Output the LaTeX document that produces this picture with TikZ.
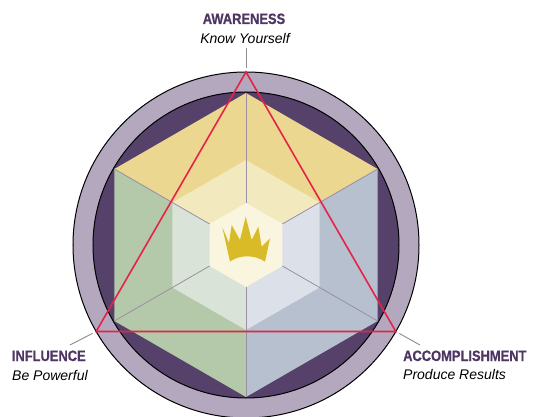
\documentclass[tikz,border=0pt]{standalone}
\usepackage{fontspec}
\setmainfont{Liberation Sans}
\newfontfamily\headfont[FakeStretch=0.86, BoldFeatures={FakeBold=0.6}]{Liberation Sans}

\definecolor{ringlight}{HTML}{B3A8BE}
\definecolor{ringdark}{HTML}{56416A}
\definecolor{yellowout}{HTML}{EBD78F}
\definecolor{yellowmid}{HTML}{F3E9BF}
\definecolor{greenout}{HTML}{B3C9A9}
\definecolor{greenmid}{HTML}{DAE3D7}
\definecolor{blueout}{HTML}{B6C0CE}
\definecolor{bluemid}{HTML}{DCE0E8}
\definecolor{creamcore}{HTML}{FAF5DF}
\definecolor{crowngold}{HTML}{D8BB26}
\definecolor{trired}{HTML}{E5234A}
\definecolor{seamgray}{HTML}{9A8FA5}
\definecolor{leadergray}{HTML}{8C8C8C}
\definecolor{titlepurple}{HTML}{4E3663}

\begin{document}
\begin{tikzpicture}[x=1pt, y=1pt,
          title/.style={font=\headfont\bfseries\fontsize{15}{18}\selectfont, text=titlepurple, anchor=base, inner sep=0pt},
          motto/.style={font=\itshape\fontsize{14}{17}\selectfont, anchor=base, inner sep=0pt},
          leader/.style={draw=leadergray, line width=0.9pt, shorten >=4pt},
          seam/.style={draw=seamgray, line width=0.8pt}
    ]
    \useasboundingbox (-246,-172) rectangle (289,245);

    % rings
    \filldraw[fill=ringlight, draw=black, line width=1pt] (0,0) circle (173);
    \filldraw[fill=ringdark, draw=black, line width=1pt] (0,0) circle (153);

    % outer cube faces
    \fill[yellowout] (0,0) -- (150:152) -- (90:152) -- (30:152) -- cycle;
    \fill[greenout] (0,0) -- (150:152) -- (210:152) -- (270:152) -- cycle;
    \fill[blueout] (0,0) -- (30:152) -- (330:152) -- (270:152) -- cycle;

    % inner cube faces
    \fill[yellowmid] (0,0) -- (150:85) -- (90:85) -- (30:85) -- cycle;
    \fill[greenmid] (0,0) -- (150:85) -- (210:85) -- (270:85) -- cycle;
    \fill[bluemid] (0,0) -- (30:85) -- (330:85) -- (270:85) -- cycle;

    \fill[creamcore] (90:42) -- (150:42) -- (210:42) -- (270:42) -- (330:42) -- (30:42) -- cycle;

    \foreach \a in {30,90,...,330}
        \draw[seam] (\a:42) -- (\a:152);

    % crown
    \fill[crowngold] (-23.7,17.7) -- (-17,2) -- (-14.3,20) -- (-6,5) -- (-0.3,28.3)
        -- (5.7,5) -- (12.3,18.3) -- (15.7,-1.7) -- (24,6.7) -- (19,-16.7)
        .. controls (9,-9.5) and (-7,-9.5) .. (-16,-16.7) -- cycle;

    % triangle
    \coordinate (A) at (90:173);
    \coordinate (I) at (210:173);
    \coordinate (P) at (330:173);
    \draw[trired, line width=1.6pt, line join=miter] (A) -- (I) -- (P) -- cycle;

    % labels
    \node[title] (aware) at (-2,221) {AWARENESS};
    \node[motto] (aware-motto) at (-1,201.7) {Know Yourself};
    \node[title, anchor=base west] (infl) at (-234.3,-116) {INFLUENCE};
    \node[motto, anchor=base west] (infl-motto) at (-234,-135) {Be Powerful};
    \node[title, anchor=base west] (accomp) at (157,-116) {ACCOMPLISHMENT};
    \node[motto, anchor=base west] (accomp-motto) at (157,-134) {Produce Results};

    \coordinate (aware-tip) at (0,197);
    \coordinate (infl-tip) at (-176,-100);
    \coordinate (accomp-tip) at (174,-100);
    \draw[leader] (aware-tip) -- (A);
    \draw[leader] (infl-tip) -- (I);
    \draw[leader] (accomp-tip) -- (P);

\end{tikzpicture}
\end{document}
